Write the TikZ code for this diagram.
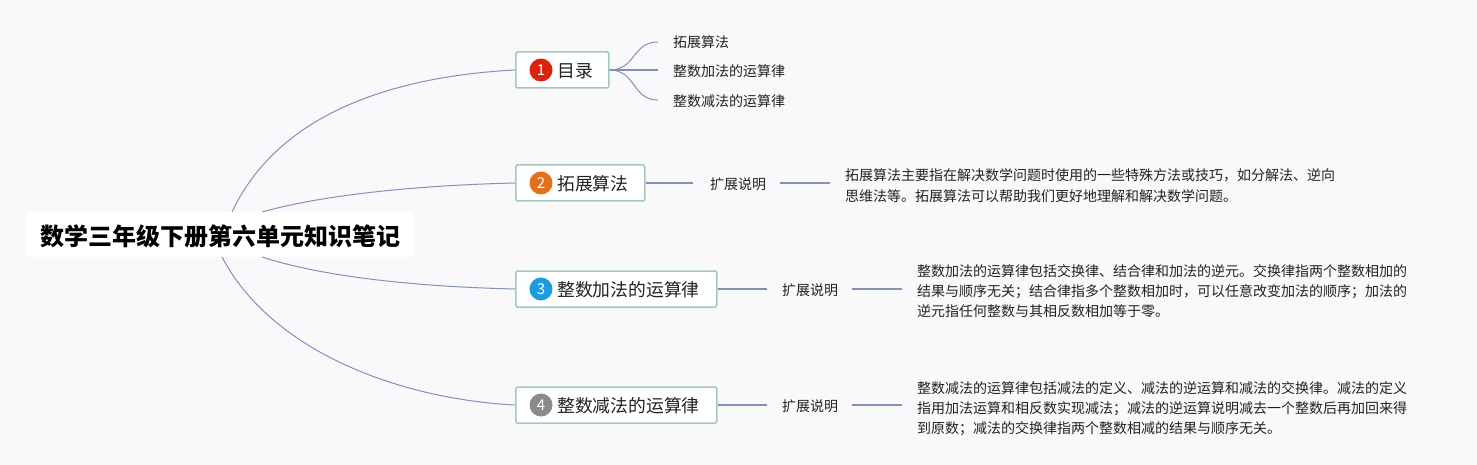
\documentclass[tikz,border=0pt]{standalone}
\usepackage{fontspec}
\setmainfont{Noto Sans CJK SC}
\newfontfamily\cjk{Noto Sans CJK SC}
\usetikzlibrary{calc}
\definecolor{bgc}{HTML}{F9F9FB}
\definecolor{linec}{HTML}{8390B8}
\definecolor{boxc}{HTML}{A3C9BD}
\definecolor{redc}{HTML}{D8240F}
\definecolor{orangec}{HTML}{E2701A}
\definecolor{bluec}{HTML}{1C9BE0}
\definecolor{grayc}{HTML}{8A8A8A}
\definecolor{txtc}{HTML}{222222}
\tikzset{
  topic/.style={draw=boxc, line width=1.5pt, fill=white, rounded corners=1.5pt, minimum height=36pt, inner sep=0pt, anchor=west},
  badge/.style={circle, inner sep=0pt, minimum size=23pt, text=white, font=\cjk\fontsize{15}{15}\selectfont},
  topictext/.style={anchor=west, inner sep=0pt, text=txtc, font=\cjk\fontsize{17.8}{18}\selectfont},
  leaf/.style={anchor=west, inner sep=0pt, text=txtc, font=\cjk\fontsize{14}{14}\selectfont},
  para/.style={anchor=base west, inner sep=0pt, align=left, text=txtc},
  conn/.style={draw=linec, line width=1.4pt},
  mainconn/.style={draw=linec, line width=1pt},
}
\begin{document}
\begin{tikzpicture}[x=1pt,y=-1pt]
\fill[bgc] (0,0) rectangle (1477,465);
\useasboundingbox (0,0) rectangle (1477,465);

% root
\node[fill=white, rounded corners=8pt, minimum width=390pt, minimum height=45pt, inner sep=0pt] (root) at (220,234.5) {};
\node[inner sep=0pt, font=\cjk\bfseries\fontsize{24}{24}\selectfont, text=black] (roottext) at (220,236) {数学三年级下册第六单元知识笔记};

\coordinate (r1) at (232,212);
\coordinate (r2) at (262,212);
\coordinate (r3) at (262,257);
\coordinate (r4) at (222,257);

% topics
\node[topic, minimum width=93pt] (b1) at (515,70) {};
\node[badge, fill=redc] (c1) at (541,70) {1};
\node[topictext] (t1) at (557,71) {目录};

\node[topic, minimum width=129pt] (b2) at (515,183) {};
\node[badge, fill=orangec] (c2) at (541,183) {2};
\node[topictext] (t2) at (557,184) {拓展算法};

\node[topic, minimum width=201pt] (b3) at (515,289) {};
\node[badge, fill=bluec] (c3) at (541,289) {3};
\node[topictext] (t3) at (557,290) {整数加法的运算律};

\node[topic, minimum width=201pt] (b4) at (515,405) {};
\node[badge, fill=grayc] (c4) at (541,405) {4};
\node[topictext] (t4) at (557,406) {整数减法的运算律};

% main connectors
\draw[mainconn] (r1) .. controls (280,110) and (400,76) .. (b1.west);
\draw[mainconn] (r2) .. controls (330,193) and (430,185) .. (b2.west);
\draw[mainconn] (r3) .. controls (330,279) and (430,287) .. (b3.west);
\draw[mainconn] (r4) .. controls (272,352) and (400,399) .. (b4.west);

% node 1 children
\node[leaf] (l1) at (673,42) {拓展算法};
\node[leaf] (l2) at (673,71) {整数加法的运算律};
\node[leaf] (l3) at (673,101) {整数减法的运算律};
\coordinate (e1) at (658,42);
\coordinate (e2) at (658,70);
\coordinate (e3) at (658,100);
\draw[conn, line width=1pt] (b1.east) .. controls (636,70) and (632,42) .. (e1);
\draw[conn] (b1.east) -- (e2);
\draw[conn, line width=1pt] (b1.east) .. controls (636,70) and (632,100) .. (e3);

% node 2
\node[leaf] (k2) at (710,184) {扩展说明};
\coordinate (k2a) at (693,183);
\coordinate (k2b) at (780,183);
\coordinate (k2c) at (830,183);
\draw[conn] (b2.east) -- (k2a);
\draw[conn] (k2b) -- (k2c);
\node[para, font=\cjk\fontsize{14}{21.5}\selectfont] (p2) at (845,202) {拓展算法主要指在解决数学问题时使用的一些特殊方法或技巧，如分解法、逆向\\思维法等。拓展算法可以帮助我们更好地理解和解决数学问题。};

% node 3
\node[leaf] (k3) at (782,290) {扩展说明};
\coordinate (k3a) at (767,289);
\coordinate (k3b) at (852,289);
\coordinate (k3c) at (902,289);
\draw[conn] (b3.east) -- (k3a);
\draw[conn] (k3b) -- (k3c);
\node[para, font=\cjk\fontsize{14}{20}\selectfont] (p3) at (917,316) {整数加法的运算律包括交换律、结合律和加法的逆元。交换律指两个整数相加的\\结果与顺序无关；结合律指多个整数相加时，可以任意改变加法的顺序；加法的\\逆元指任何整数与其相反数相加等于零。};

% node 4
\node[leaf] (k4) at (782,406) {扩展说明};
\coordinate (k4a) at (767,405);
\coordinate (k4b) at (852,405);
\coordinate (k4c) at (902,405);
\draw[conn] (b4.east) -- (k4a);
\draw[conn] (k4b) -- (k4c);
\node[para, font=\cjk\fontsize{14}{20}\selectfont] (p4) at (917,433) {整数减法的运算律包括减法的定义、减法的逆运算和减法的交换律。减法的定义\\指用加法运算和相反数实现减法；减法的逆运算说明减去一个整数后再加回来得\\到原数；减法的交换律指两个整数相减的结果与顺序无关。};
\end{tikzpicture}
\end{document}
